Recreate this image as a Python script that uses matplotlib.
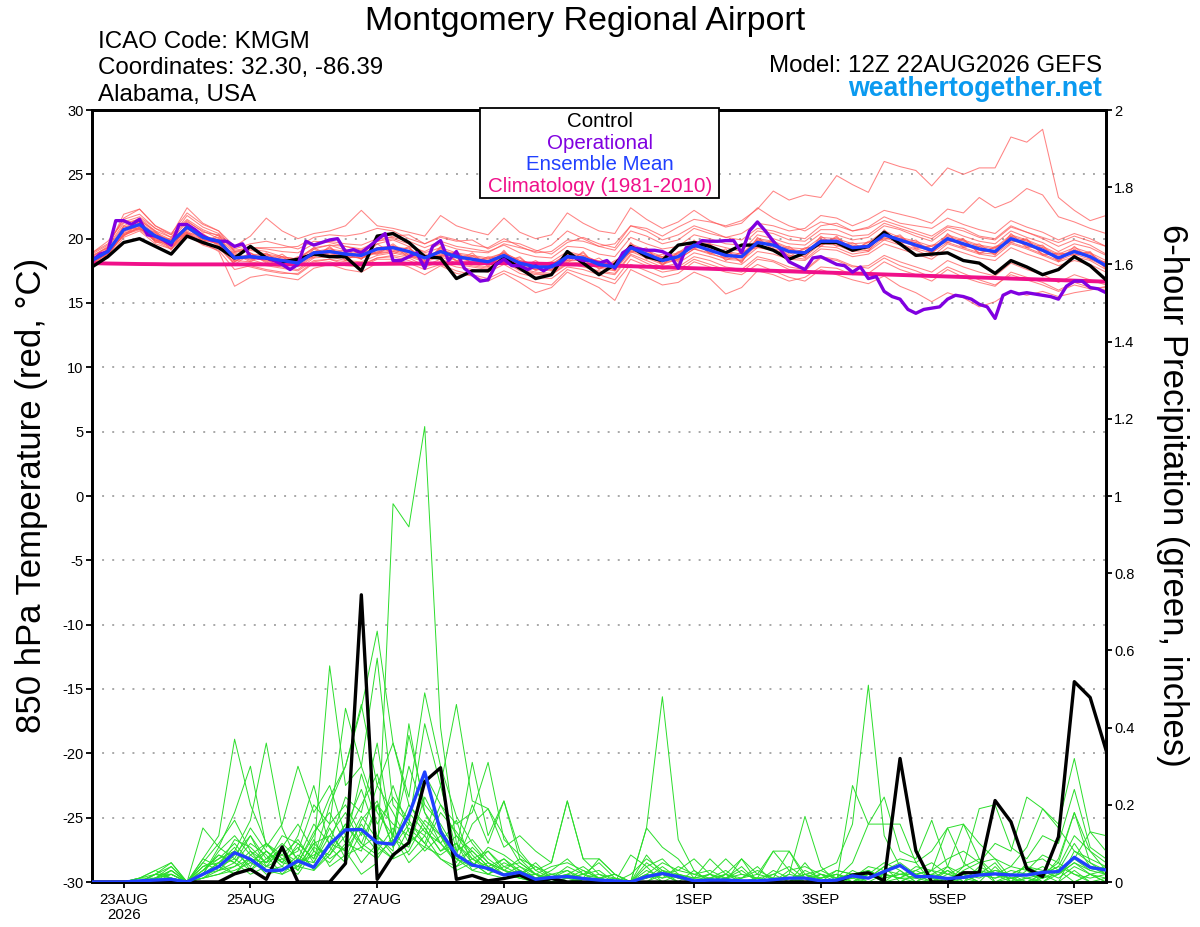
import numpy as np
import pandas as pd
import matplotlib
matplotlib.use("Agg")
import matplotlib.pyplot as plt
from matplotlib.patches import Rectangle

plt.rcParams["font.family"] = ["Liberation Sans", "DejaVu Sans"]
plt.rcParams["axes.unicode_minus"] = False

# ---------------------------------------------------------------- data
START = "2026-08-22 12:00"
END = "2026-09-07 12:00"
times6 = pd.date_range(START, periods=65, freq="6h")
times3 = pd.date_range(START, periods=129, freq="3h")

tick_dates = ["2026-08-23", "2026-08-25", "2026-08-27", "2026-08-29",
              "2026-09-01", "2026-09-03", "2026-09-05", "2026-09-07"]
tick_labels = ["23AUG\n2026", "25AUG", "27AUG", "29AUG",
               "1SEP", "3SEP", "5SEP", "7SEP"]
temp_ticks = [30, 25, 20, 15, 10, 5, 0, -5, -10, -15, -20, -25, -30]
precip_ticks = [0, 0.2, 0.4, 0.6, 0.8, 1.0, 1.2, 1.4, 1.6, 1.8, 2.0]

# 850 hPa temperature (deg C), 6-hourly
control_t = [17.8, 18.6, 19.7, 20.0, 19.4, 18.8, 20.2, 19.7, 19.3, 18.5, 19.4, 18.5, 18.2,
             18.4, 18.8, 18.6, 18.6, 17.5, 20.2, 20.4, 19.7, 18.6, 18.5, 16.9, 17.5, 17.5,
             18.5, 17.7, 16.9, 17.2, 19.0, 18.1, 17.2, 18.0, 19.4, 18.6, 18.3, 19.5, 19.7,
             19.4, 18.9, 19.5, 19.5, 19.1, 18.4, 18.9, 19.7, 19.7, 19.1, 19.4, 20.5, 19.6,
             18.7, 18.8, 18.9, 18.3, 18.1, 17.3, 18.3, 17.8, 17.2, 17.6, 18.6, 17.9, 16.8]
mean_t = [18.3, 19.0, 20.7, 21.1, 20.2, 19.7, 20.9, 20.1, 19.8, 18.5, 18.6, 18.5, 18.3,
          18.1, 18.9, 19.0, 18.8, 18.7, 19.2, 19.3, 19.0, 18.5, 19.0, 18.6, 18.4, 18.2,
          18.7, 18.1, 17.8, 17.8, 18.6, 18.5, 18.0, 17.8, 19.3, 18.8, 18.3, 18.6, 19.5,
          19.1, 18.7, 18.6, 19.7, 19.5, 19.0, 18.9, 19.8, 19.8, 19.3, 19.4, 20.3, 19.9,
          19.5, 19.1, 20.0, 19.6, 19.2, 19.0, 20.0, 19.6, 19.1, 18.5, 19.0, 18.6, 17.9]
clim_t = [18.1, 18.07, 18.05, 18.03, 18.02, 18.0, 18.0, 18.0, 18.0, 18.0, 18.0, 18.0, 18.0,
          18.0, 18.0, 18.01, 18.02, 18.03, 18.04, 18.05, 18.06, 18.07, 18.08, 18.09, 18.1, 18.1,
          18.1, 18.08, 18.06, 18.03, 18.0, 17.97, 17.94, 17.9, 17.86, 17.82, 17.78, 17.74, 17.7,
          17.66, 17.62, 17.58, 17.54, 17.5, 17.46, 17.42, 17.38, 17.34, 17.3, 17.26, 17.22, 17.18,
          17.14, 17.1, 17.06, 17.02, 16.98, 16.94, 16.9, 16.86, 16.82, 16.78, 16.74, 16.7, 16.66]
# operational run, 3-hourly
oper_t = [18.3, 18.8, 19.0, 21.4, 21.4, 21.1, 21.5, 20.3, 20.2, 19.9, 19.5, 21.1, 21.1,
          20.7, 20.2, 19.9, 19.8, 19.8, 19.4, 19.6, 18.6, 18.5, 18.5, 18.3, 18.0, 17.6,
          18.0, 19.8, 19.5, 19.7, 19.9, 20.0, 19.0, 19.15, 18.9, 19.4, 19.9, 20.4, 18.3,
          18.3, 18.6, 18.9, 17.7, 19.4, 19.85, 18.3,
          19.0, 17.7, 17.2, 16.7, 16.8, 18.0, 18.4, 17.9, 17.9, 17.6, 17.9, 17.5, 17.9,
          18.0, 18.6, 18.5, 18.3, 18.3, 18.1, 18.3, 17.7, 18.9, 19.3, 19.2, 19.1, 19.1,
          19.0, 18.7, 17.7, 19.3, 19.4, 19.85, 19.8, 19.8, 19.85, 19.85, 18.9, 20.6, 21.3,
          20.6, 19.8, 19.1, 18.2,
          17.9, 17.6, 18.5, 18.6, 18.3, 18.0, 17.9, 17.4, 17.8, 16.9, 17.05, 15.9, 15.5,
          15.3, 14.5, 14.2, 14.5, 14.6, 14.7, 15.3, 15.6, 15.5, 15.3, 14.9, 14.7, 13.8,
          15.6, 15.9, 15.7, 15.8, 15.7, 15.6, 15.5, 15.3, 16.3, 16.7, 16.7, 16.2, 16.1, 15.8]

ens_t = [
    [18.6, 19.4, 21.2, 21.5, 20.5, 19.9, 21.3, 20.6, 20.0, 18.9, 19.2, 19.0, 18.6,
     18.4, 19.3, 19.5, 19.1, 19.0, 19.6, 19.9, 19.4, 19.0, 19.6, 19.2, 19.0, 18.9,
     19.6, 19.3, 19.0, 19.5, 20.6, 20.0, 19.4, 19.6, 21.0, 20.8, 20.2, 20.9, 21.5,
     21.3, 21.0, 21.4, 22.3, 23.7, 23.0, 23.4, 23.2, 24.9, 24.2, 23.6, 26.0, 25.6,
     25.3, 24.1, 25.5, 25.0, 25.5, 25.5, 27.9, 27.5, 28.5, 23.2, 22.2, 21.4, 21.8],
    [18.9, 19.6, 21.5, 21.9, 20.8, 20.1, 21.8, 20.9, 20.4, 19.2, 19.6, 19.8, 19.5,
     19.2, 19.8, 19.7, 19.4, 19.1, 19.8, 20.2, 20.3, 19.6, 20.1, 19.8, 19.9, 19.2,
     19.8, 19.6, 19.1, 18.8, 19.7, 20.1, 19.6, 19.3, 21.0, 20.6, 19.9, 20.3, 21.0,
     20.6, 20.1, 20.4, 21.2, 21.0, 20.6, 20.8, 21.8, 21.6, 21.0, 21.5, 22.2, 21.9,
     21.6, 21.2, 22.3, 22.0, 23.2, 22.4, 22.9, 23.9, 23.4, 21.7, 21.3, 20.8, 20.4],
    [17.9, 18.5, 20.1, 20.6, 19.6, 19.2, 20.3, 19.5, 19.1, 17.6, 17.9, 17.6, 17.4,
     17.2, 18.1, 18.2, 17.9, 17.8, 18.4, 18.4, 18.1, 17.6, 18.0, 17.5, 17.2, 16.9,
     17.5, 17.0, 16.6, 16.4, 17.6, 17.2, 16.9, 16.5, 18.0, 17.5, 17.0, 17.3, 18.2,
     17.8, 17.4, 17.2, 18.0, 17.5, 17.0, 16.7, 17.6, 17.2, 16.8, 16.5, 17.1, 16.3,
     15.8, 15.1, 15.8, 15.4, 14.7, 15.1, 15.9, 15.6, 15.9, 15.5, 15.8, 16.0, 16.3],
    [18.0, 18.7, 20.4, 20.8, 19.9, 19.4, 20.4, 19.7, 19.0, 16.3, 17.0, 17.2, 17.0,
     16.8, 17.7, 18.0, 17.6, 17.4, 18.1, 18.2, 17.8, 17.2, 17.9, 17.3, 17.1, 16.7,
     17.3, 16.6, 15.8, 16.2, 17.4, 16.8, 16.2, 15.2, 17.6, 17.0, 16.4, 16.6, 17.4,
     16.9, 15.7, 16.2, 17.5, 17.2, 16.7, 17.0, 17.8, 17.7, 17.2, 17.3, 18.2, 17.6,
     17.2, 16.7, 17.6, 17.0, 16.6, 16.3, 17.4, 17.0, 16.6, 16.0, 16.6, 16.2, 16.0],
    [18.8, 19.5, 21.6, 22.3, 21.0, 20.4, 22.0, 21.1, 20.6, 19.4, 20.2, 21.6, 20.6,
     20.0, 20.4, 20.6, 21.0, 22.2, 21.0, 20.8, 20.5, 20.2, 21.8, 21.0, 20.6, 20.3,
     21.6, 20.5, 20.0, 20.3, 22.0, 21.2, 20.6, 20.4, 22.4, 21.5, 20.8, 21.3, 22.2,
     21.4, 20.9, 21.2, 22.4, 21.6, 21.0, 20.6, 21.3, 21.0, 20.6, 20.8, 21.4, 21.0,
     20.6, 20.2, 21.0, 20.8, 20.2, 20.0, 21.0, 20.5, 20.1, 19.7, 20.2, 19.8, 19.4],
    [18.6, 19.3, 21.9, 22.3, 21.0, 20.3, 22.4, 21.2, 20.6, 19.0, 19.1, 18.8, 18.6,
     18.4, 19.2, 19.5, 19.4, 19.2, 19.8, 20.0, 19.6, 18.9, 19.3, 18.9, 18.7, 18.5,
     18.9, 18.3, 18.0, 18.2, 19.0, 18.7, 18.2, 18.0, 19.6, 19.1, 18.6, 18.9, 19.8,
     19.6, 19.3, 19.0, 20.3, 20.0, 19.6, 19.5, 20.4, 20.3, 19.9, 20.1, 21.0, 20.7,
     20.2, 19.8, 20.7, 20.2, 19.8, 19.6, 20.6, 20.1, 19.7, 19.0, 19.6, 19.3, 18.7],
    [18.1, 18.8, 20.3, 20.8, 20.0, 19.5, 20.6, 19.9, 19.6, 18.3, 18.2, 18.0, 17.8,
     17.6, 18.5, 18.6, 18.3, 18.2, 18.7, 18.9, 18.6, 18.2, 18.6, 18.1, 17.9, 17.7,
     18.3, 17.7, 17.4, 17.3, 18.2, 18.1, 17.7, 17.5, 19.0, 18.5, 18.0, 18.4, 19.2,
     18.9, 18.4, 18.3, 19.3, 19.1, 18.6, 18.4, 19.4, 19.3, 18.8, 19.0, 19.9, 19.5,
     19.1, 18.6, 19.6, 19.2, 18.8, 18.6, 19.6, 19.2, 18.7, 18.2, 18.6, 18.3, 17.6],
    [18.4, 19.1, 20.9, 21.3, 20.4, 19.8, 21.0, 20.2, 19.9, 18.7, 18.5, 18.4, 18.2,
     18.0, 18.8, 19.1, 18.9, 18.6, 19.1, 19.2, 18.9, 18.4, 19.2, 18.7, 18.5, 18.3,
     18.8, 18.2, 17.9, 17.6, 18.4, 18.6, 18.1, 17.9, 19.4, 18.9, 18.4, 18.7, 19.6,
     19.3, 18.9, 18.7, 19.9, 19.7, 19.2, 19.0, 19.9, 19.9, 19.4, 19.5, 20.4, 20.0,
     19.7, 19.2, 20.2, 19.8, 19.4, 19.2, 20.2, 19.8, 19.3, 18.7, 19.1, 18.8, 18.1],
    [18.2, 19.2, 20.5, 21.0, 20.1, 19.6, 20.8, 20.0, 19.7, 18.0, 18.8, 18.7, 18.5,
     18.3, 19.0, 18.8, 18.6, 18.5, 19.0, 19.1, 18.8, 18.3, 18.8, 18.5, 18.2, 18.0,
     18.5, 17.9, 17.6, 17.5, 18.3, 18.3, 17.8, 17.6, 19.1, 18.6, 18.1, 18.4, 19.2,
     18.8, 18.5, 18.4, 19.5, 19.2, 18.7, 18.6, 19.6, 19.5, 19.0, 19.1, 20.1, 19.6,
     19.2, 18.9, 19.7, 19.3, 18.9, 18.8, 19.7, 19.3, 18.8, 18.3, 18.8, 18.4, 17.8],
    [18.5, 18.9, 20.6, 21.4, 20.6, 19.4, 20.7, 20.4, 19.5, 18.8, 18.2, 18.9, 18.0,
     18.5, 19.3, 18.7, 18.5, 19.1, 18.9, 19.6, 18.7, 18.8, 18.7, 18.9, 18.1, 18.6,
     18.4, 18.5, 17.6, 18.1, 18.3, 18.9, 17.7, 18.2, 19.0, 19.2, 18.0, 18.9, 19.3,
     19.5, 18.5, 18.9, 19.4, 19.8, 18.8, 19.2, 19.5, 20.1, 19.1, 19.7, 20.0, 20.2,
     19.3, 19.4, 19.8, 19.9, 18.9, 19.3, 19.8, 19.9, 18.8, 18.8, 18.8, 18.9, 17.7],
    [18.0, 19.3, 20.2, 20.9, 19.8, 20.0, 20.5, 19.8, 20.1, 18.2, 18.9, 18.1, 18.6,
     17.8, 18.6, 19.3, 18.4, 18.9, 18.8, 19.0, 19.3, 18.1, 19.3, 18.3, 18.7, 17.9,
     19.0, 17.8, 18.1, 17.6, 18.9, 18.2, 18.3, 17.5, 19.5, 18.5, 18.6, 18.3, 19.7,
     18.9, 18.9, 18.2, 19.9, 19.3, 19.2, 18.7, 20.0, 19.6, 19.5, 19.2, 20.5, 19.7,
     19.7, 18.9, 20.1, 19.4, 19.4, 18.8, 20.2, 19.4, 19.3, 18.3, 19.2, 18.5, 18.1],
    [18.2, 18.8, 20.4, 20.9, 19.9, 19.3, 20.5, 19.6, 19.3, 18.0, 18.1, 17.9, 17.7,
     17.5, 18.3, 18.4, 18.2, 18.0, 18.5, 18.6, 18.3, 17.8, 18.2, 17.8, 17.6, 17.4,
     18.0, 17.3, 17.0, 16.9, 17.8, 17.6, 17.2, 16.8, 18.4, 17.9, 17.4, 17.6, 18.4,
     18.0, 17.6, 17.4, 18.4, 18.2, 17.6, 17.5, 18.5, 18.3, 17.8, 17.9, 18.7, 18.2,
     17.8, 17.4, 18.3, 17.8, 17.4, 17.1, 18.1, 17.6, 17.2, 16.6, 17.2, 16.8, 16.4],
    [18.7, 19.3, 21.0, 21.6, 20.6, 20.1, 21.4, 20.5, 20.3, 19.1, 19.3, 19.2, 19.0,
     18.9, 19.6, 19.8, 19.6, 19.5, 20.0, 20.1, 19.8, 19.3, 19.8, 19.4, 19.2, 19.0,
     19.5, 18.9, 18.6, 18.5, 19.4, 19.3, 18.8, 18.6, 20.1, 19.6, 19.2, 19.4, 20.3,
     20.0, 19.6, 19.5, 20.6, 20.4, 19.9, 19.8, 20.7, 20.7, 20.2, 20.3, 21.2, 20.8,
     20.4, 20.0, 20.9, 20.6, 20.1, 19.9, 20.9, 20.5, 20.0, 19.4, 19.9, 19.5, 18.8],
    [18.4, 18.8, 20.8, 21.2, 20.0, 19.5, 21.1, 20.3, 19.8, 18.6, 18.4, 18.0, 18.4,
     18.2, 18.7, 19.0, 18.9, 18.4, 19.3, 19.4, 19.2, 18.6, 18.9, 18.6, 18.5, 18.0,
     18.6, 18.0, 17.7, 18.0, 18.8, 18.4, 18.0, 17.7, 19.2, 18.7, 18.2, 18.5, 19.5,
     19.2, 18.7, 18.6, 19.6, 19.6, 19.0, 18.9, 19.8, 19.7, 19.4, 19.3, 20.2, 19.8,
     19.4, 19.0, 19.9, 19.5, 19.1, 18.9, 19.9, 19.5, 19.0, 18.5, 19.0, 18.6, 17.9],
    [18.1, 18.9, 20.6, 21.0, 20.2, 19.6, 20.8, 19.9, 19.6, 18.4, 18.5, 18.3, 18.1,
     17.9, 18.7, 18.9, 18.6, 18.5, 18.9, 19.0, 18.7, 18.3, 18.7, 18.3, 18.0, 17.8,
     18.2, 17.6, 17.3, 17.2, 18.0, 17.9, 17.4, 17.2, 18.7, 18.1, 17.6, 17.8, 18.6,
     18.3, 17.8, 17.6, 18.6, 18.3, 17.8, 17.6, 18.6, 18.4, 17.9, 17.7, 18.5, 17.9,
     17.5, 17.0, 17.8, 17.3, 16.8, 16.4, 17.2, 16.8, 16.4, 15.9, 16.4, 16.1, 16.2],
    [18.9, 19.8, 21.3, 21.7, 20.8, 20.3, 21.5, 20.7, 20.2, 19.0, 19.3, 19.3, 19.3,
     19.4, 20.1, 20.3, 20.2, 20.4, 20.8, 20.6, 20.0, 19.6, 20.2, 19.9, 19.5, 19.3,
     20.0, 19.4, 18.9, 19.0, 19.9, 19.8, 19.4, 19.1, 20.6, 20.2, 19.6, 19.9, 20.8,
     20.4, 20.1, 19.9, 20.8, 20.6, 20.2, 20.0, 21.0, 21.2, 20.6, 20.9, 21.7, 21.2,
     21.0, 20.8, 21.6, 21.1, 20.7, 20.4, 21.4, 20.9, 20.5, 19.9, 20.4, 20.0, 19.4],
    [17.8, 18.7, 20.3, 20.7, 19.8, 19.2, 20.4, 19.6, 19.3, 18.1, 17.8, 17.5, 17.3,
     17.3, 18.2, 18.4, 18.0, 17.9, 18.5, 18.7, 18.5, 17.9, 18.4, 18.0, 17.8, 17.6,
     18.2, 17.5, 17.2, 17.2, 18.1, 17.8, 17.5, 17.3, 18.8, 18.3, 17.8, 18.1, 18.9,
     18.6, 18.2, 18.0, 19.0, 18.8, 18.4, 18.3, 19.2, 19.1, 18.6, 18.8, 19.6, 19.2,
     18.8, 18.4, 19.3, 18.9, 18.5, 18.3, 19.3, 18.8, 18.4, 17.9, 18.3, 18.0, 17.4],
    [18.3, 19.1, 20.6, 21.2, 20.3, 19.9, 21.0, 20.1, 19.9, 18.6, 18.7, 18.6, 18.4,
     18.2, 19.0, 19.2, 19.0, 18.9, 19.3, 19.4, 19.0, 18.6, 19.1, 18.8, 18.6, 18.4,
     18.9, 18.3, 18.0, 18.0, 18.8, 18.7, 18.2, 18.0, 19.5, 19.0, 18.5, 18.8, 19.7,
     19.4, 19.0, 18.8, 20.0, 19.8, 19.3, 19.2, 20.1, 20.0, 19.6, 19.7, 20.6, 20.1,
     19.8, 19.4, 20.3, 19.9, 19.5, 19.3, 20.3, 19.9, 19.4, 18.8, 19.3, 18.9, 18.3],
    [18.6, 18.6, 21.0, 20.7, 20.5, 19.1, 21.2, 19.7, 20.3, 18.2, 18.9, 18.2, 18.8,
     17.9, 19.2, 18.6, 19.2, 18.4, 19.6, 18.8, 19.4, 18.0, 19.4, 18.2, 18.9, 17.8,
     19.1, 17.7, 18.3, 17.5, 19.0, 18.0, 18.5, 17.6, 19.7, 18.4, 18.8, 18.2, 19.9,
     18.8, 19.2, 18.1, 20.1, 19.1, 19.4, 18.5, 20.2, 19.4, 19.7, 19.0, 20.7, 19.6,
     19.9, 18.8, 20.4, 19.3, 19.6, 18.7, 20.4, 19.3, 19.5, 18.2, 19.4, 18.4, 18.2],
    [17.9, 19.0, 20.2, 21.3, 19.7, 19.8, 20.4, 20.3, 19.4, 18.9, 18.3, 18.8, 18.1,
     18.6, 18.5, 19.4, 18.3, 19.0, 18.8, 19.5, 18.5, 18.7, 18.6, 19.0, 18.0, 18.5,
     18.1, 18.6, 17.5, 18.2, 18.1, 19.0, 17.6, 18.3, 18.9, 19.3, 17.9, 19.0, 19.2,
     19.6, 18.3, 19.0, 19.3, 19.9, 18.6, 19.3, 19.4, 20.2, 19.0, 19.8, 19.9, 20.3,
     19.2, 19.5, 19.7, 20.0, 18.8, 19.4, 19.7, 20.0, 18.7, 18.9, 18.7, 19.0, 17.6],
]

# 6-hour precipitation (inches)
control_p = [0, 0, 0, 0, 0, 0, 0, 0, 0, 0.021, 0.033, 0.007, 0.091,
             0, 0, 0, 0.048, 0.744, 0.007, 0.07, 0.102, 0.26, 0.296, 0.007, 0.017, 0.003,
             0.009, 0.018, 0, 0.009, 0, 0, 0, 0, 0, 0, 0, 0, 0,
             0, 0, 0, 0, 0, 0, 0, 0, 0, 0.018, 0.024, 0.003, 0.32,
             0.081, 0, 0, 0.024, 0.024, 0.211, 0.156, 0.035, 0.014, 0.117, 0.519, 0.478, 0.342]
mean_p = [0, 0, 0, 0.003, 0.005, 0.007, 0, 0.02, 0.04, 0.076, 0.059, 0.029, 0.031,
          0.055, 0.038, 0.098, 0.135, 0.136, 0.102, 0.098, 0.174, 0.285, 0.13, 0.07, 0.044, 0.035,
          0.018, 0.025, 0.007, 0.012, 0.014, 0.009, 0.005, 0.003, 0, 0.014, 0.022, 0.014, 0.003,
          0.005, 0.005, 0.003, 0.003, 0.006, 0.01, 0.01, 0.003, 0.005, 0.016, 0.01, 0.027, 0.043,
          0.014, 0.014, 0.009, 0.012, 0.018, 0.021, 0.018, 0.018, 0.025, 0.027, 0.064, 0.038, 0.031]

ens_p = [
    [0, 0, 0, 0, 0, 0.01, 0, 0.02, 0.04, 0.06, 0.03, 0.08, 0.05,
     0.04, 0.10, 0.12, 0.08, 0.02, 0.05, 0.98, 0.92, 1.18, 0.40, 0.10, 0.06, 0.03,
     0.02, 0.01, 0, 0, 0.02, 0, 0, 0, 0, 0, 0, 0, 0,
     0, 0, 0, 0, 0, 0, 0, 0, 0, 0, 0, 0, 0.01,
     0, 0, 0, 0.02, 0, 0, 0, 0, 0.01, 0.03, 0, 0.02, 0],
    [0, 0, 0, 0, 0.01, 0.03, 0, 0.05, 0.10, 0.16, 0.08, 0.05, 0.12,
     0.10, 0.06, 0.20, 0.30, 0.45, 0.65, 0.36, 0.22, 0.49, 0.30, 0.17, 0.10, 0.05,
     0.03, 0.01, 0, 0, 0, 0.01, 0, 0, 0.07, 0.04, 0, 0, 0,
     0, 0.02, 0, 0, 0, 0, 0.05, 0, 0, 0, 0.02, 0, 0,
     0, 0, 0.04, 0, 0, 0, 0.02, 0, 0, 0, 0.08, 0.05, 0.02],
    [0, 0, 0, 0.01, 0.03, 0.05, 0, 0.03, 0.07, 0.05, 0.12, 0.04, 0.09,
     0.15, 0.08, 0.56, 0.25, 0.30, 0.58, 0.20, 0.15, 0.41, 0.25, 0.46, 0.21, 0.19,
     0.12, 0.05, 0.02, 0.01, 0.03, 0, 0, 0, 0, 0.02, 0, 0, 0,
     0, 0, 0, 0, 0, 0, 0.02, 0, 0, 0, 0, 0, 0,
     0, 0, 0, 0, 0.02, 0.05, 0, 0.03, 0.07, 0.05, 0.02, 0, 0],
    [0, 0, 0, 0, 0.02, 0.04, 0, 0.06, 0.12, 0.37, 0.20, 0.10, 0.06,
     0.08, 0.20, 0.15, 0.45, 0.30, 0.18, 0.12, 0.38, 0.20, 0.15, 0.08, 0.31, 0.12,
     0.21, 0.08, 0.03, 0.01, 0, 0, 0.01, 0, 0, 0, 0.02, 0, 0,
     0.01, 0, 0, 0, 0, 0.03, 0, 0, 0, 0.01, 0, 0, 0.03,
     0, 0, 0, 0.04, 0.06, 0, 0, 0.01, 0, 0, 0.03, 0, 0.01],
    [0, 0, 0, 0, 0, 0.02, 0, 0.02, 0.05, 0.08, 0.16, 0.36, 0.14,
     0.05, 0.12, 0.22, 0.30, 0.46, 0.25, 0.36, 0.20, 0.15, 0.10, 0.05, 0.15, 0.19,
     0.09, 0.12, 0.08, 0.05, 0.21, 0.06, 0.06, 0.02, 0, 0, 0, 0, 0,
     0, 0, 0, 0, 0, 0, 0, 0, 0, 0, 0.02, 0, 0,
     0.02, 0, 0, 0, 0, 0, 0, 0, 0, 0, 0, 0, 0],
    [0, 0, 0, 0.01, 0.02, 0.05, 0, 0.14, 0.09, 0.18, 0.30, 0.09, 0.15,
     0.30, 0.18, 0.25, 0.12, 0.20, 0.28, 0.12, 0.30, 0.18, 0.12, 0.06, 0.04, 0.08,
     0.04, 0.02, 0.02, 0.04, 0.05, 0.03, 0.01, 0, 0, 0.14, 0.48, 0.11, 0.03,
     0, 0, 0.06, 0, 0, 0, 0, 0, 0, 0, 0, 0, 0,
     0, 0, 0.03, 0, 0, 0, 0, 0, 0.02, 0, 0, 0, 0],
    [0, 0, 0, 0, 0.01, 0, 0, 0.03, 0.06, 0.10, 0.05, 0.08, 0.04,
     0.10, 0.06, 0.15, 0.20, 0.12, 0.25, 0.18, 0.10, 0.28, 0.20, 0.12, 0.08, 0.04,
     0.02, 0.03, 0.01, 0, 0, 0, 0, 0, 0, 0, 0, 0.02, 0,
     0.01, 0.03, 0, 0, 0.01, 0.08, 0.02, 0.03, 0.05, 0.15, 0.51, 0.12, 0.04,
     0.02, 0, 0, 0.03, 0.05, 0.06, 0.01, 0, 0.02, 0.04, 0.12, 0.08, 0.05],
    [0, 0, 0, 0, 0.02, 0.01, 0, 0.05, 0.03, 0.07, 0.12, 0.06, 0.10,
     0.06, 0.15, 0.10, 0.22, 0.18, 0.36, 0.10, 0.20, 0.14, 0.08, 0.10, 0.05, 0.02,
     0.05, 0.03, 0.01, 0, 0.01, 0.02, 0.01, 0, 0.02, 0.06, 0.03, 0, 0,
     0, 0.02, 0, 0.01, 0, 0.02, 0.17, 0.04, 0, 0.25, 0.15, 0.15, 0.15,
     0.05, 0, 0.01, 0, 0.04, 0.02, 0, 0.01, 0, 0.03, 0.06, 0.13, 0.12],
    [0, 0, 0, 0, 0, 0, 0, 0.01, 0.04, 0.02, 0.07, 0.10, 0.05,
     0.12, 0.25, 0.09, 0.15, 0.10, 0.20, 0.15, 0.12, 0.09, 0.18, 0.13, 0.07, 0.03,
     0.06, 0.02, 0, 0, 0, 0.01, 0, 0.01, 0, 0, 0.03, 0.01, 0,
     0.02, 0, 0, 0, 0, 0, 0.02, 0, 0, 0.01, 0.04, 0.03, 0.05,
     0.02, 0.03, 0.06, 0.08, 0.05, 0.10, 0.08, 0.22, 0.19, 0.15, 0.32, 0.13, 0.08],
    [0, 0, 0, 0, 0.01, 0.03, 0, 0.02, 0.08, 0.12, 0.07, 0.04, 0.06,
     0.03, 0.09, 0.07, 0.14, 0.24, 0.12, 0.08, 0.41, 0.18, 0.10, 0.16, 0.04, 0.09,
     0.07, 0.04, 0.02, 0.01, 0.02, 0.01, 0.01, 0, 0, 0.05, 0.02, 0, 0.03,
     0, 0.01, 0.03, 0, 0.02, 0.04, 0.01, 0, 0.03, 0.02, 0, 0.02, 0.01,
     0.03, 0.05, 0.02, 0.04, 0.19, 0.20, 0.09, 0.06, 0.12, 0.10, 0.24, 0.09, 0.06],
    [0, 0, 0, 0, 0.02, 0.02, 0, 0.04, 0.05, 0.09, 0.03, 0.06, 0.08,
     0.05, 0.13, 0.18, 0.10, 0.28, 0.15, 0.22, 0.16, 0.10, 0.06, 0.04, 0.09, 0.05,
     0.03, 0.06, 0.02, 0, 0.01, 0, 0, 0, 0, 0.03, 0.01, 0.02, 0,
     0, 0.01, 0, 0, 0, 0.01, 0, 0.02, 0.01, 0.05, 0.15, 0.22, 0.08,
     0.06, 0.16, 0.04, 0.02, 0.01, 0.03, 0.02, 0.04, 0.02, 0.05, 0.18, 0.08, 0.03],
    [0, 0, 0, 0, 0, 0.01, 0, 0.02, 0.03, 0.04, 0.06, 0.02, 0.03,
     0.07, 0.04, 0.10, 0.08, 0.15, 0.09, 0.06, 0.14, 0.10, 0.20, 0.15, 0.18, 0.31,
     0.11, 0.07, 0.03, 0.05, 0.21, 0.06, 0.02, 0, 0, 0, 0, 0, 0,
     0, 0, 0, 0, 0, 0, 0, 0, 0, 0, 0, 0, 0,
     0, 0.03, 0, 0.01, 0, 0, 0, 0, 0, 0, 0, 0.02, 0],
    [0, 0, 0, 0.01, 0.01, 0.04, 0, 0.06, 0.04, 0.11, 0.09, 0.05, 0.07,
     0.04, 0.10, 0.06, 0.09, 0.17, 0.11, 0.25, 0.13, 0.08, 0.12, 0.07, 0.20, 0.10,
     0.21, 0.06, 0.04, 0.02, 0.01, 0.03, 0.01, 0.02, 0, 0.14, 0.09, 0.06, 0.01,
     0.02, 0, 0.01, 0.04, 0, 0, 0.03, 0.01, 0.02, 0, 0.02, 0.05, 0.03,
     0, 0.02, 0.04, 0.15, 0.06, 0.02, 0.04, 0.03, 0, 0.02, 0.05, 0.03, 0.04],
    [0, 0, 0, 0, 0.02, 0.01, 0, 0.03, 0.07, 0.05, 0.10, 0.07, 0.02,
     0.06, 0.05, 0.12, 0.18, 0.10, 0.07, 0.11, 0.09, 0.22, 0.14, 0.06, 0.03, 0.02,
     0.04, 0.05, 0.02, 0, 0, 0.01, 0.06, 0.02, 0, 0.01, 0.03, 0.02, 0.01,
     0.06, 0.02, 0.06, 0.02, 0.08, 0.08, 0.01, 0.02, 0, 0.03, 0.01, 0.04, 0,
     0.02, 0.01, 0, 0.02, 0, 0.04, 0, 0.05, 0.06, 0.03, 0.10, 0.04, 0.02],
    [0, 0, 0, 0, 0, 0, 0, 0.01, 0.02, 0.03, 0.05, 0.03, 0.04,
     0.02, 0.08, 0.05, 0.10, 0.08, 0.20, 0.09, 0.15, 0.12, 0.25, 0.08, 0.11, 0.06,
     0.03, 0.02, 0.05, 0.01, 0.04, 0.02, 0.05, 0.01, 0, 0.07, 0.02, 0.03, 0.06,
     0.02, 0.06, 0.02, 0.01, 0.08, 0.03, 0.04, 0.02, 0.01, 0, 0.01, 0.02, 0.01,
     0.04, 0.03, 0.14, 0.05, 0.02, 0.01, 0.03, 0.02, 0.01, 0.06, 0.18, 0.05, 0.03],
    [0, 0, 0, 0, 0.01, 0.02, 0, 0.02, 0.09, 0.06, 0.14, 0.08, 0.05,
     0.09, 0.03, 0.08, 0.15, 0.09, 0.12, 0.07, 0.10, 0.14, 0.08, 0.12, 0.06, 0.04,
     0.02, 0.04, 0.01, 0.03, 0.06, 0.02, 0.03, 0, 0, 0.02, 0.05, 0.03, 0.02,
     0.03, 0.01, 0.04, 0, 0.03, 0.01, 0, 0.01, 0.02, 0, 0.03, 0.01, 0.02,
     0.01, 0, 0.02, 0.01, 0.03, 0, 0.01, 0.02, 0.04, 0.02, 0.05, 0.02, 0.01],
    [0, 0, 0, 0, 0, 0.01, 0, 0.01, 0.03, 0.05, 0.02, 0.04, 0.03,
     0.05, 0.07, 0.09, 0.05, 0.13, 0.08, 0.14, 0.07, 0.12, 0.06, 0.03, 0.05, 0.02,
     0.01, 0.02, 0, 0.02, 0.03, 0.01, 0.02, 0.01, 0, 0.04, 0.06, 0.02, 0.01,
     0.01, 0.02, 0.01, 0.03, 0.01, 0.01, 0, 0.02, 0.01, 0.02, 0.01, 0.04, 0.06,
     0.05, 0.08, 0.14, 0.15, 0.10, 0.06, 0.04, 0.09, 0.19, 0.14, 0.08, 0.06, 0.04],
    [0, 0, 0, 0, 0.01, 0.02, 0, 0.04, 0.06, 0.08, 0.04, 0.10, 0.07,
     0.11, 0.05, 0.14, 0.06, 0.16, 0.21, 0.09, 0.18, 0.13, 0.10, 0.06, 0.08, 0.04,
     0.06, 0.03, 0.01, 0.02, 0.01, 0, 0.01, 0.02, 0, 0.01, 0.04, 0.01, 0,
     0, 0.01, 0.02, 0.01, 0, 0.02, 0.01, 0.01, 0.02, 0.01, 0.02, 0.02, 0.01,
     0.01, 0.02, 0.01, 0.02, 0.03, 0.02, 0.01, 0.02, 0.01, 0.02, 0.06, 0.03, 0.02],
    [0, 0, 0, 0.01, 0.03, 0.01, 0, 0.01, 0.02, 0.04, 0.08, 0.03, 0.02,
     0.04, 0.03, 0.07, 0.12, 0.05, 0.10, 0.06, 0.08, 0.16, 0.12, 0.04, 0.06, 0.08,
     0.03, 0.02, 0.04, 0.01, 0.02, 0.04, 0.01, 0, 0, 0.02, 0.01, 0.04, 0.02,
     0.01, 0, 0.01, 0.02, 0.01, 0.01, 0.02, 0.01, 0.03, 0.02, 0.01, 0.03, 0.02,
     0.03, 0.01, 0.03, 0.01, 0.02, 0.01, 0.02, 0.04, 0.03, 0.01, 0.04, 0.02, 0.03],
    [0, 0, 0, 0, 0, 0.03, 0, 0.02, 0.05, 0.02, 0.06, 0.05, 0.09,
     0.03, 0.11, 0.04, 0.07, 0.09, 0.06, 0.12, 0.05, 0.09, 0.07, 0.10, 0.03, 0.05,
     0.02, 0.01, 0.02, 0, 0.01, 0.02, 0, 0.01, 0, 0.01, 0.02, 0.01, 0.01,
     0.02, 0.01, 0, 0.01, 0.02, 0, 0.01, 0.03, 0.01, 0.02, 0.03, 0.01, 0.02,
     0.02, 0.03, 0.02, 0.01, 0.02, 0.03, 0.02, 0.01, 0.02, 0.04, 0.02, 0.01, 0.02],
]

# ---------------------------------------------------------------- style
RED = "#ff5050"
GREEN = "#2bdd2b"
PURPLE = "#8000e0"
BLUE = "#2040ff"
MAGENTA = "#f0108a"
SKY = "#0a9af0"

W, H = 1200, 927
fig = plt.figure(figsize=(W / 100, H / 100), dpi=100)
ax = fig.add_axes([92 / W, 45 / H, 1014 / W, 772 / H])
ax2 = ax.twinx()

# temperature (left axis)
for row in ens_t:
    ax.plot(times6, row, color=RED, lw=0.75, alpha=0.7, zorder=2)
ax.plot(times6, clim_t, color=MAGENTA, lw=2.8, zorder=3)
ax.plot(times6, control_t, color="black", lw=2.4, zorder=4)
ax.plot(times3, oper_t, color=PURPLE, lw=2.4, zorder=5)
ax.plot(times6, mean_t, color=BLUE, lw=2.4, zorder=6)

# precipitation (right axis)
for row in ens_p:
    ax2.plot(times6, row, color=GREEN, lw=0.7, zorder=2)
ax2.plot(times6, control_p, color="black", lw=2.4, zorder=4)
ax2.plot(times6, mean_p, color=BLUE, lw=2.4, zorder=5)

ax.set_xlim(pd.Timestamp(START), pd.Timestamp(END))
ax.set_ylim(-30, 30)
ax2.set_ylim(0, 2)

ax.set_yticks(temp_ticks)
ax.set_yticklabels([f"{v:g}" for v in temp_ticks], fontsize=10.5)
ax2.set_yticks(precip_ticks)
ax2.set_yticklabels([f"{v:g}" for v in precip_ticks], fontsize=10.5)
ax.set_xticks(pd.to_datetime(tick_dates))
ax.set_xticklabels(tick_labels, fontsize=10.8, linespacing=1.1)

ax.yaxis.grid(True, color="#a8a8a8", linestyle=(0, (1, 4.2)), lw=1.4)
ax.set_axisbelow(True)

for a in (ax, ax2):
    for s in a.spines.values():
        s.set_linewidth(2.0)
    a.tick_params(direction="out", length=4, width=1.3, pad=2, colors="black")
ax.tick_params(axis="x", pad=4)

# legend box (top edge on the top spine)
ax2.add_patch(Rectangle(((480 - 92) / 1014, (882 - 198) / 772), 239 / 1014, 90 / 772,
                        transform=ax2.transAxes, facecolor="white", edgecolor="black",
                        lw=1.3, zorder=10, clip_on=False))
leg_items = [("Control", "black", 127), ("Operational", PURPLE, 149),
             ("Ensemble Mean", BLUE, 170), ("Climatology (1981-2010)", MAGENTA, 192)]
for txt, col, yb in leg_items:
    fig.text(600 / W, 1 - yb / H, txt, color=col, fontsize=14.8,
             ha="center", va="baseline", zorder=11)

# header texts
fig.text(585 / W, 1 - 30 / H, "Montgomery Regional Airport", fontsize=24.5,
         ha="center", va="baseline")
fig.text(98 / W, 1 - 48 / H, "ICAO Code: KMGM", fontsize=17.4, va="baseline")
fig.text(98 / W, 1 - 74 / H, "Coordinates: 32.30, -86.39", fontsize=17.4, va="baseline")
fig.text(98 / W, 1 - 101 / H, "Alabama, USA", fontsize=17.4, va="baseline")
fig.text(1102 / W, 1 - 72 / H, "Model: 12Z 22AUG2026 GEFS", fontsize=17.4,
         ha="right", va="baseline")
fig.text(1102 / W, 1 - 96 / H, "weathertogether.net", fontsize=19.3, fontweight="bold",
         color=SKY, ha="right", va="baseline")

# axis titles
fig.text(32 / W, 1 - 495 / H, "850 hPa Temperature (red, \u00b0C)", fontsize=25,
         rotation=90, ha="center", va="center")
fig.text(1172 / W, 1 - 495 / H, "6-hour Precipitation (green, inches)", fontsize=25,
         rotation=-90, ha="center", va="center")

fig.savefig("out.png", dpi=100)
